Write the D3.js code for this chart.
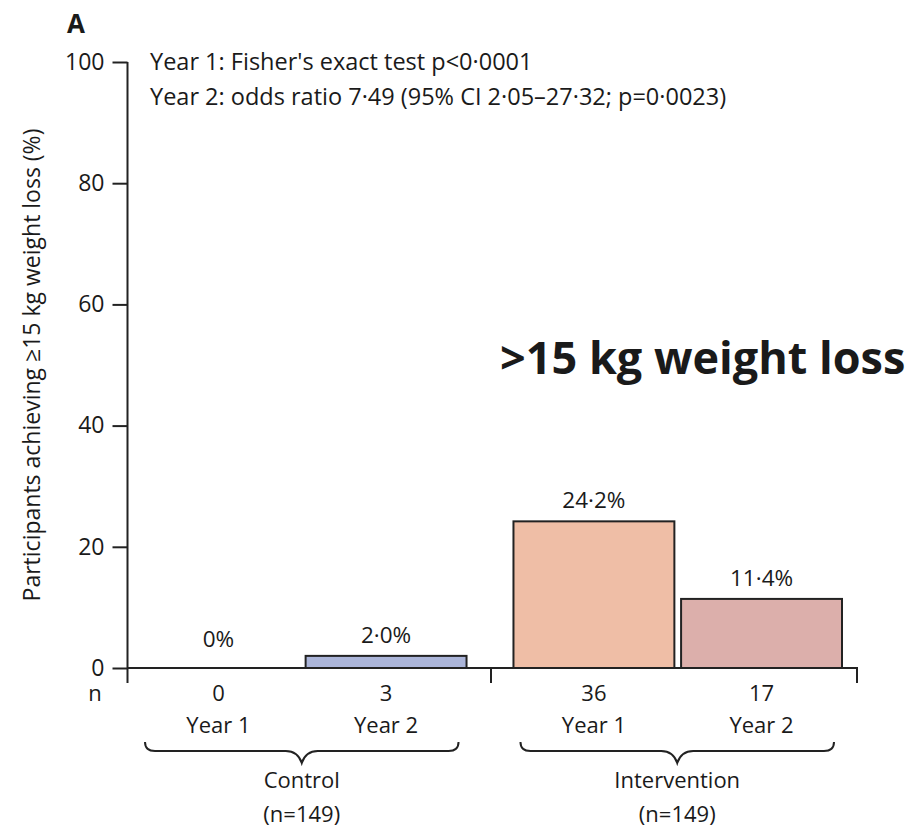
<!DOCTYPE html>
<html>
<head>
<meta charset="utf-8">
<script src="https://cdn.jsdelivr.net/npm/d3@7"></script>
<style>
    body { margin: 0; background: #fff; }
    svg text { font-family: "Open Sans", sans-serif; fill: #1a1a1a; }
</style>
</head>
<body>
<svg id="chart" width="913" height="831"></svg>
<script>
// data
const groups = ["Control", "Intervention"]
const groupN = ["(n=149)", "(n=149)"]
const years = ["Year 1", "Year 2"]
const pct = [[0, 2.0], [24.2, 11.4]]
const counts = [[0, 3], [36, 17]]
const fills = [["#ffffff", "#abb5d9"], ["#efbea6", "#dcafab"]]
const yTicks = [0, 20, 40, 60, 80, 100]

const fmt = v => (v === 0 ? "0" : d3.format(".1f")(v).replace(".", "\u00b7")) + "%"
const fs = "22px"

const svg = d3.select("#chart")

const y = d3.scaleLinear().domain([0, 100]).range([668, 62])
const x0 = d3.scaleBand().domain(groups).range([138, 842]).paddingInner(0.125)
const x1 = d3.scaleBand().domain(years).range([0, x0.bandwidth()]).paddingInner(0.04)

const rows = []
groups.forEach((g, i) => years.forEach((yr, j) => {
    rows.push({group: g, year: yr, value: pct[i][j], n: counts[i][j], fill: fills[i][j]})
}))
const cx = d => x0(d.group) + x1(d.year) + x1.bandwidth() / 2

// panel letter
svg.append("text").attr("x", 67).attr("y", 33)
    .style("font-size", "26px").style("font-weight", 700).text("A")

// y axis
const yAxis = svg.append("g").attr("transform", "translate(127.5,0)")
    .call(d3.axisLeft(y).tickValues(yTicks).tickSize(15).tickSizeOuter(0).tickPadding(8))
yAxis.select(".domain").attr("stroke", "#222").attr("stroke-width", 2)
    .attr("d", `M0,${y(100)}V683`)
yAxis.selectAll(".tick line").attr("stroke", "#222").attr("stroke-width", 2)
yAxis.selectAll(".tick text").style("font-size", "23px").attr("fill", "#1a1a1a")
    .style("font-family", "'Open Sans', sans-serif").attr("dy", "0.32em")

svg.append("text")
    .attr("transform", `translate(40,${(y(0) + y(100)) / 2}) rotate(-90)`)
    .attr("text-anchor", "middle").style("font-size", "23px")
    .text("Participants achieving \u226515 kg weight loss (%)")

// bars
svg.selectAll("rect.bar").data(rows).join("rect").attr("class", "bar")
    .attr("x", d => x0(d.group) + x1(d.year))
    .attr("width", x1.bandwidth())
    .attr("y", d => y(d.value))
    .attr("height", d => y(0) - y(d.value))
    .attr("fill", d => d.fill)
    .attr("stroke", "#222").attr("stroke-width", 2)

svg.selectAll("text.val").data(rows).join("text").attr("class", "val")
    .attr("x", cx)
    .attr("y", d => y(d.value) - (d.value === 0 ? 21 : 13))
    .attr("text-anchor", "middle").style("font-size", "22.5px")
    .text(d => fmt(d.value))

// baseline with group separators
const left = x0.range()[0] - 10.5
const right = x0.range()[1] + 15
const mid = (x0("Control") + x0.bandwidth() + x0("Intervention")) / 2 + 1
svg.append("path")
    .attr("d", `M${left},${y(0)}H${right}V683M${mid},${y(0)}V683`)
    .attr("fill", "none").attr("stroke", "#222").attr("stroke-width", 2)

// n row
svg.append("text").attr("x", 95).attr("y", 701).attr("text-anchor", "middle")
    .style("font-size", fs).text("n")
svg.selectAll("text.n").data(rows).join("text").attr("class", "n")
    .attr("x", cx).attr("y", 701).attr("text-anchor", "middle")
    .style("font-size", fs).text(d => d.n)
svg.selectAll("text.yr").data(rows).join("text").attr("class", "yr")
    .attr("x", cx).attr("y", 733).attr("text-anchor", "middle")
    .style("font-size", fs).text(d => d.year)

// braces + group labels
groups.forEach((g, i) => {
    const a = x0(g) + 7, b = x0(g) + x0.bandwidth() - 8, m = (a + b) / 2
    const top = 742, h = 751, tip = 763
    svg.append("path")
        .attr("d", `M${a},${top}Q${a},${h} ${a + 10},${h}H${m - 16}Q${m - 4},${h} ${m},${tip}` +
                   `Q${m + 4},${h} ${m + 16},${h}H${b - 10}Q${b},${h} ${b},${top}`)
        .attr("fill", "none").attr("stroke", "#222").attr("stroke-width", 2)
    svg.append("text").attr("x", m).attr("y", 788).attr("text-anchor", "middle")
        .style("font-size", fs).text(g)
    svg.append("text").attr("x", m).attr("y", 822).attr("text-anchor", "middle")
        .style("font-size", fs).text(groupN[i])
})

// stats annotation
svg.append("text").attr("x", 150).attr("y", 70).style("font-size", "23.5px")
    .text("Year 1: Fisher's exact test p<0\u00b70001")
svg.append("text").attr("x", 150).attr("y", 105).style("font-size", "23.5px")
    .text("Year 2: odds ratio 7\u00b749 (95% CI 2\u00b705\u201327\u00b732; p=0\u00b70023)")

// overlay title
svg.append("text").attr("x", 500).attr("y", 374)
    .style("font-size", "45px").style("font-weight", 700)
    .text(">15 kg weight loss")
</script>
</body>
</html>
